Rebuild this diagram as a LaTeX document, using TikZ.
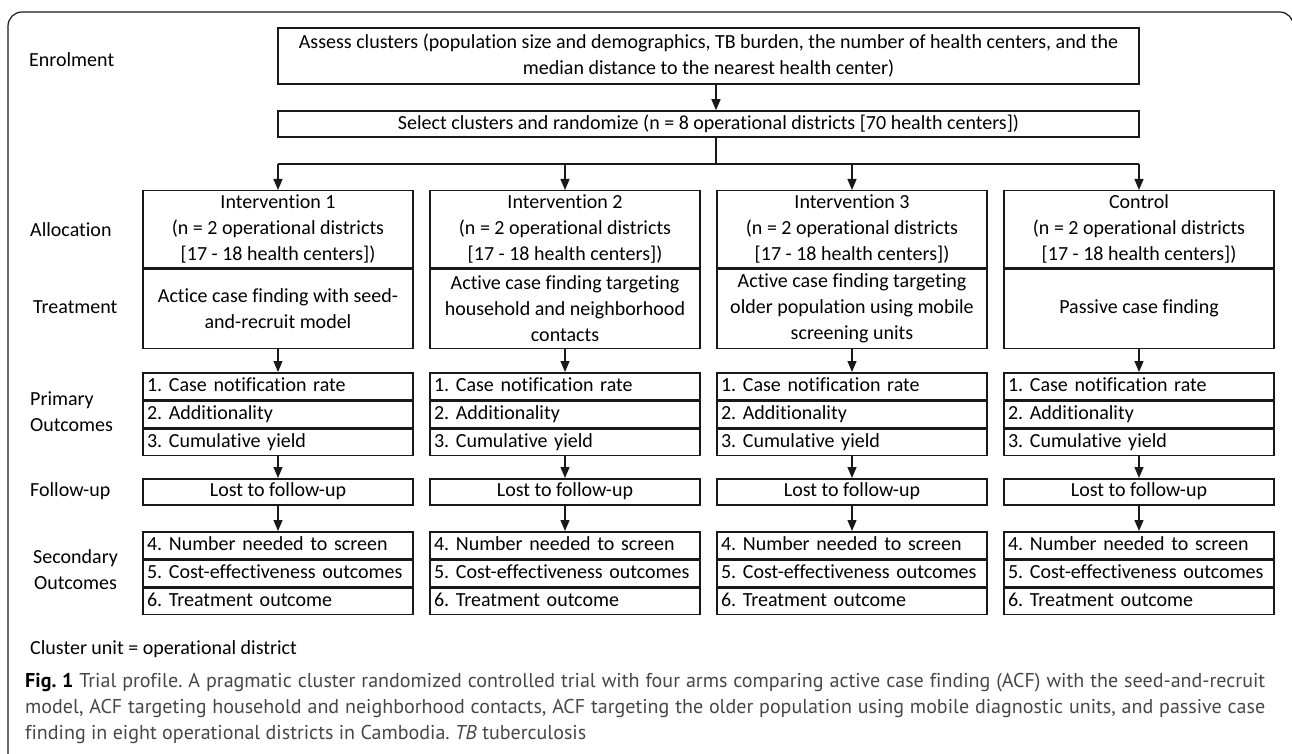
\documentclass[tikz,border=0pt]{standalone}
\usepackage{fontspec}
\setmainfont{Carlito}[RawFeature={-liga;-clig;-calt;-dlig}]
\newfontfamily\capfont{PT Sans}[RawFeature={-liga;-clig}]
\usetikzlibrary{arrows.meta}
\newlength\capL
\definecolor{capgray}{gray}{0.28}
\definecolor{linecol}{gray}{0.1}
\frenchspacing
\begin{document}
\settowidth\capL{\capfont\fontsize{10}{12}\selectfont\frenchspacing\textbf{Fig. 1} Trial profile. A pragmatic cluster randomized controlled trial with four arms comparing active case finding (ACF) with the seed-and-recruit}%
\pgfmathsetmacro\capsize{10*1228/\capL}%
\begin{tikzpicture}[x=1pt,y=-1pt,
  every node/.style={font=\fontsize{20}{26}\selectfont\frenchspacing, inner sep=0pt},
  box/.style={draw=linecol, line width=1.5pt, minimum width=270pt, align=center},
  row/.style={draw=linecol, line width=1.5pt, minimum width=270pt, minimum height=26.5pt,
              text width=262pt, align=left, text height=14pt, text depth=4pt},
  arr/.style={draw=linecol, line width=1.2pt, -{Triangle[length=11pt,width=9pt]}},
  lab/.style={anchor=west}]
\useasboundingbox (0,0) rectangle (1292,754);
\fill[white] (0,0) rectangle (1292,754);
\begin{scope}
  \clip (0,0) rectangle (1292,754);
  \draw[line width=1.2pt, draw=linecol, rounded corners=14pt] (8,800) -- (8,12) -- (1293.5,12) -- (1293.5,800);
\end{scope}

% stage labels
\node[lab] (lenrol) at (29,60) {Enrolment};
\node[lab] (lalloc) at (30,230) {Allocation};
\node[lab] (ltreat) at (33,307) {Treatment};
\node[lab, align=left] (lprim) at (30,412) {Primary\\Outcomes};
\node[lab] (lfu) at (30,491) {Follow-up};
\node[lab, align=center] (lsec) at (33,570) {Secondary\\Outcomes};

% top boxes
\node[box, minimum width=861pt, minimum height=56pt] (assess) at (708.5,56)
  {Assess clusters (population size and demographics, TB burden, the number of health centers, and the\\median distance to the nearest health center)};
\node[box, minimum width=861pt, minimum height=26pt] (select) at (708.5,124)
  {Select clusters and randomize (n = 8 operational districts [70 health centers])};

\coordinate (stemx) at (716,0);
\coordinate (split) at (716,164);
\draw[arr] (assess.south -| stemx) -- (select.north -| stemx);
\draw[draw=linecol, line width=1.2pt] (select.south -| stemx) -- (split);

% columns
\foreach \i/\cx/\title/\treat in {
  1/278/{Intervention 1}/{Actice case finding with seed-\\and-recruit model},
  2/565/{Intervention 2}/{Active case finding targeting\\household and neighborhood\\contacts},
  3/852/{Intervention 3}/{Active case finding targeting\\older population using mobile\\screening units},
  4/1139/{Control}/{Passive case finding}}{
  \node[box, minimum height=77pt, anchor=north] (alloc\i) at (\cx,190)
    {\title\\(n = 2 operational districts\\{}[17 - 18 health centers])};
  \node[box, minimum height=79pt, anchor=north] (treat\i) at (alloc\i.south) {\treat};
  \node[row, anchor=north] (prima\i) at (\cx,372) {1. Case notification rate};
  \node[row, anchor=north] (primb\i) at (prima\i.south) {2. Additionality};
  \node[row, anchor=north] (primc\i) at (primb\i.south) {3. Cumulative yield};
  \node[box, minimum height=26pt, text height=14pt, text depth=4pt, anchor=north] (fu\i) at (\cx,478) {Lost to follow-up};
  \node[row, anchor=north] (seca\i) at (\cx,531) {4. Number needed to screen};
  \node[row, anchor=north] (secb\i) at (seca\i.south) {5. Cost-effectiveness outcomes};
  \node[row, anchor=north] (secc\i) at (secb\i.south) {6. Treatment outcome};
  \draw[arr] (alloc\i.north |- split) -- (alloc\i.north);
  \draw[arr] (treat\i.south) -- (prima\i.north);
  \draw[arr] (primc\i.south) -- (fu\i.north);
  \draw[arr] (fu\i.south) -- (seca\i.north);
}
\draw[draw=linecol, line width=1.2pt] (alloc1.north |- split) -- (alloc4.north |- split);

% footer
\node[lab] (cluster) at (30,649) {Cluster unit = operational district};

\node[anchor=base west, text=capgray] (cap1) at (25,687)
  {\capfont\fontsize{\capsize}{\capsize}\selectfont\frenchspacing\makebox[1240pt][s]{\textcolor{black}{\textbf{Fig. 1}} Trial profile. A pragmatic cluster randomized controlled trial with four arms comparing active case finding (ACF) with the seed-and-recruit}};
\node[anchor=base west, text=capgray] (cap2) at (25,713)
  {\capfont\fontsize{\capsize}{\capsize}\selectfont\frenchspacing\makebox[1240pt][s]{model, ACF targeting household and neighborhood contacts, ACF targeting the older population using mobile diagnostic units, and passive case}};
\node[anchor=base west, text=capgray] (cap3) at (25,739)
  {\capfont\fontsize{\capsize}{\capsize}\selectfont\frenchspacing finding in eight operational districts in Cambodia. \textit{TB} tuberculosis};
\end{tikzpicture}
\end{document}
